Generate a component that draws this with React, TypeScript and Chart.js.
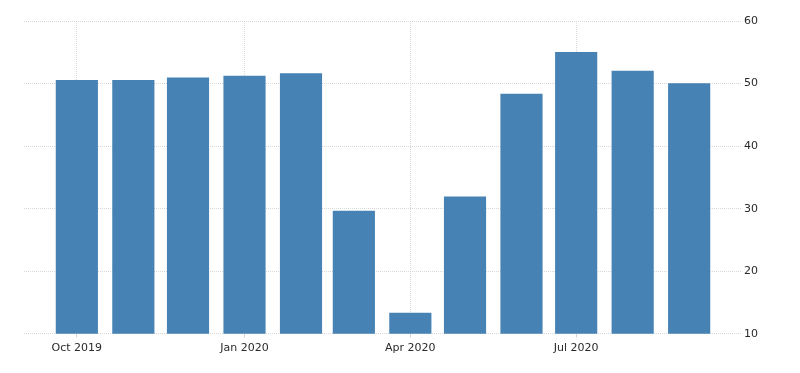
import React, { useEffect, useRef } from "react";
import { Chart, registerables } from "chart.js";

Chart.register(...registerables);

const MONTHS = ["Jan", "Feb", "Mar", "Apr", "May", "Jun", "Jul", "Aug", "Sep", "Oct", "Nov", "Dec"];

const categories = [
  "Oct 2019", "Nov 2019", "Dec 2019", "Jan 2020", "Feb 2020", "Mar 2020",
  "Apr 2020", "May 2020", "Jun 2020", "Jul 2020", "Aug 2020", "Sep 2020",
];
const values = [50.5, 50.5, 50.9, 51.2, 51.6, 29.6, 13.3, 31.9, 48.3, 55.0, 52.0, 50.0];
const xTickLabels = ["Oct 2019", "Jan 2020", "Apr 2020", "Jul 2020"];
const yTicks = [10, 20, 30, 40, 50, 60];

const DAY = 86400000;
const dayOf = (label: string) => {
  const [m, y] = label.split(" ");
  return Date.UTC(+y, MONTHS.indexOf(m), 1) / DAY;
};

export default function App() {
  const ref = useRef<HTMLCanvasElement | null>(null);

  useEffect(() => {
    if (!ref.current) return;
    const points = categories.map((c, i) => ({ x: dayOf(c), y: values[i] }));
    const tickDays = xTickLabels.map(dayOf);
    const labelByDay: Record<number, string> = {};
    xTickLabels.forEach((l) => (labelByDay[dayOf(l)] = l));
    const font = { family: "'DejaVu Sans', Verdana, sans-serif", size: 11 };

    const chart = new Chart(ref.current, {
      type: "bar",
      data: {
        datasets: [
          {
            data: points,
            backgroundColor: "#4682b4",
            borderWidth: 0,
            barThickness: 41.5,
          },
        ],
      },
      options: {
        animation: false,
        responsive: false,
        maintainAspectRatio: false,
        layout: { padding: { left: 24, right: 40, top: 21, bottom: 14 } },
        plugins: { legend: { display: false }, tooltip: { enabled: false } },
        scales: {
          x: {
            type: "linear",
            min: dayOf("Sep 2019") + 1,
            max: dayOf("Oct 2020") - 1,
            offset: false,
            afterBuildTicks: (axis: any) => {
              axis.ticks = tickDays.map((v) => ({ value: v }));
            },
            grid: {
              offset: false,
              color: "#d8d8d8",
              tickColor: "#d8d8d8",
              tickLength: 4,
              drawTicks: true,
            },
            border: { display: false, dash: [1, 1] },
            ticks: {
              autoSkip: false,
              maxRotation: 0,
              padding: 4,
              color: "#2a2a2a",
              font,
              callback: (v: any) => labelByDay[v] ?? "",
            },
          },
          y: {
            position: "right",
            min: 10,
            max: 60,
            afterBuildTicks: (axis: any) => {
              axis.ticks = yTicks.map((v) => ({ value: v }));
            },
            grid: { color: "#d8d8d8", drawTicks: false },
            border: { display: false, dash: [1, 1] },
            ticks: { padding: 2, color: "#2a2a2a", font },
          },
        },
      },
    });
    return () => chart.destroy();
  }, []);

  return (
    <div style={{ position: "absolute", left: 0, top: 0, width: 800, height: 373, background: "#fff" }}>
      <canvas ref={ref} width={800} height={373} style={{ display: "block" }} />
    </div>
  );
}
